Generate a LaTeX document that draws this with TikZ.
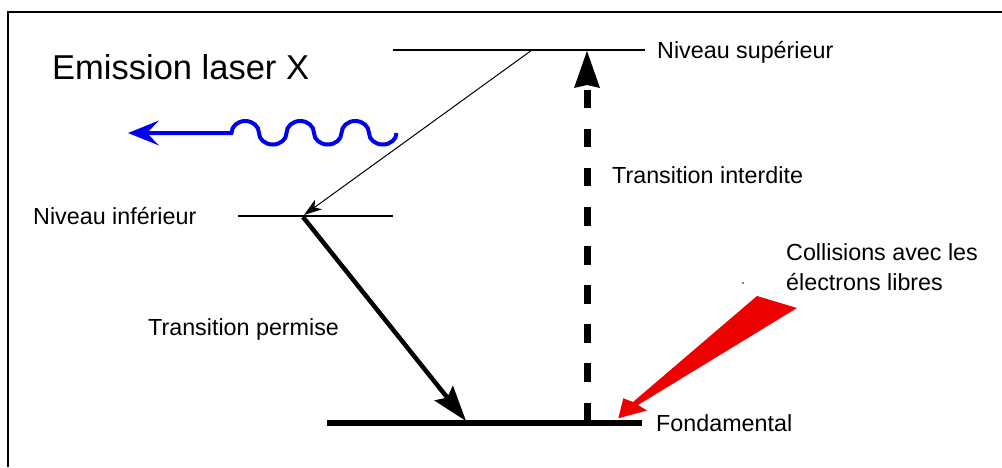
\documentclass[tikz,border=0pt]{standalone}
\usepackage{fontspec}
\setmainfont{Liberation Sans}
\usetikzlibrary{arrows.meta}
\definecolor{wavblue}{RGB}{0,0,235}
\definecolor{wedgered}{RGB}{236,0,0}
\begin{document}
\begin{tikzpicture}[x=1pt,y=-1pt,
  lbl/.style={inner sep=0pt, anchor=base west, font=\fontsize{23.3}{28}\selectfont},
  titlelbl/.style={inner sep=0pt, anchor=base west, font=\fontsize{34.5}{40}\selectfont},
  levelthin/.style={line width=1.5pt},
  levelthick/.style={line width=6pt},
  frameline/.style={line width=1.5pt},
  wave/.style={wavblue, line width=4pt, -{Stealth[length=31pt,width=25pt,inset=12pt,line width=0pt]}},
  emitarrow/.style={line width=1pt, -{Stealth[length=18pt,width=12pt,inset=5pt,line width=0pt]}},
  permarrow/.style={line width=4.5pt, -{Stealth[length=36pt,width=24pt,inset=6pt,line width=0pt]}},
  forbarrow/.style={line width=7pt, dash pattern=on 18.5pt off 20.6pt, -{Stealth[length=37pt,width=26pt,inset=3pt,line width=0pt]}}
]
\useasboundingbox (0,0) rectangle (1002,467);
% frame
\draw[frameline] (8,467) -- (8,12) -- (1002,12);

% level coordinates
\coordinate (supL) at (393,50);
\coordinate (supR) at (645,50);
\coordinate (infL) at (238,216);
\coordinate (infR) at (393,216);
\coordinate (fonL) at (327,423);
\coordinate (fonR) at (642,423);

\draw[levelthin] (supL) -- (supR);
\draw[levelthin] (infL) -- (infR);
\draw[levelthick] (fonL) -- (fonR);

% transitions
\coordinate (emitStart) at (532,50);
\coordinate (emitEnd) at (304,215);
\draw[emitarrow] (emitStart) -- (emitEnd);

\coordinate (permStart) at (303,217);
\coordinate (permEnd) at (466,421);
\draw[permarrow] (permStart) -- (permEnd);

\coordinate (forbStart) at (587,421);
\coordinate (forbEnd) at (587,51);
\draw[forbarrow] (forbStart) -- (forbEnd);

% photon wave
\coordinate (waveStart) at (396.5,133);
\coordinate (waveTip) at (128,133);
\draw[wave] (waveStart)
  arc[start angle=0,end angle=180,x radius=13.75,y radius=11.5]
  arc[start angle=0,end angle=-180,x radius=13.75,y radius=12]
  arc[start angle=0,end angle=180,x radius=13.75,y radius=11.5]
  arc[start angle=0,end angle=-180,x radius=13.75,y radius=12]
  arc[start angle=0,end angle=180,x radius=13.75,y radius=11.5]
  arc[start angle=0,end angle=-180,x radius=13.75,y radius=12]
  -- (waveTip);

% red collision wedge
\coordinate (wb1) at (757,296);
\coordinate (wb2) at (797,308);
\coordinate (wsr) at (638,405);
\coordinate (wwr) at (647,410.5);
\coordinate (wtip) at (618.3,418.3);
\coordinate (wwl) at (623.3,398.3);
\coordinate (wsl) at (633,402);
\fill[wedgered] (wb1) -- (wb2) -- (wsr) -- (wwr) -- (wtip) -- (wwl) -- (wsl) -- cycle;
\fill (743,283) circle[radius=0.9];

% labels
\node[titlelbl] (title) at (52,79) {Emission laser X};
\node[lbl] (sup) at (657,58) {Niveau supérieur};
\node[lbl] (inter) at (612,183) {Transition interdite};
\node[lbl] (inf) at (33,224) {Niveau inférieur};
\node[lbl] (perm) at (148,335) {Transition permise};
\node[lbl] (coll1) at (786,260) {Collisions avec les};
\node[lbl] (coll2) at (786,290) {électrons libres};
\node[lbl] (fond) at (656,431) {Fondamental};
\end{tikzpicture}
\end{document}
